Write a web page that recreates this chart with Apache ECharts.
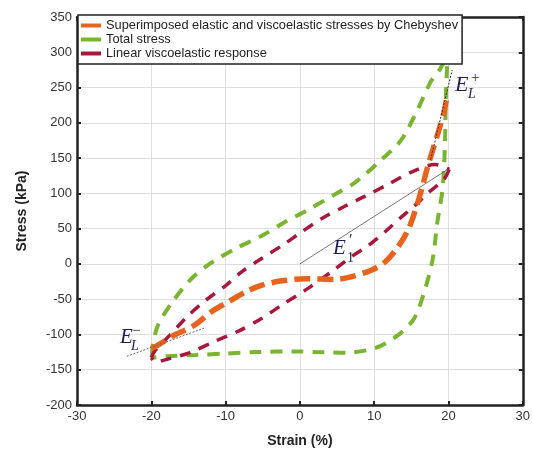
<!DOCTYPE html>
<html><head><meta charset="utf-8">
<script src="https://cdn.jsdelivr.net/npm/echarts@6/dist/echarts.min.js"></script>
<style>html,body{margin:0;padding:0;background:#fff}#c{width:533px;height:453px}</style>
</head><body><div id="c"></div>
<script>
// ---- data (strain %, stress kPa) ----
const xTickValues = [-30, -20, -10, 0, 10, 20, 30];
const yTickValues = [-200, -150, -100, -50, 0, 50, 100, 150, 200, 250, 300, 350];

const totalUpStrain = [-19.9, -19.8, -19.1, -17.1, -14.5, -12.0, -8.6, -5.1, -1.9, 0.8, 4.8, 7.5, 11.0, 13.6, 15.9, 17.6, 18.8, 19.6, 20.0];
const totalUpStress = [-130, -115, -87, -53, -20, 1, 22, 40, 60, 75, 99, 116, 148, 175, 220, 258, 275, 292, 310];
const totalDownStrain = [20.0, 19.7, 19.6, 19.5, 19.2, 18.5, 17.9, 16.9, 15.4, 13.2, 10.2, 6.1, 2.1, -0.6, -5.9, -9.9, -13.9, -17.9, -19.9];
const totalDownStress = [310, 256, 208, 162, 106, 59, 8, -34, -77, -101, -119, -126, -125, -124, -125, -127, -129, -131, -133];

const linUpStrain = [-20.0, -19.5, -17.5, -15.1, -12.6, -9.9, -7.8, -5.1, -2.4, 0.2, 2.9, 6.1, 8.8, 11.9, 15.0, 18.2, 20.1];
const linUpStress = [-133, -123, -101, -74, -51, -30, -11, 8, 26, 45, 64, 82, 96, 113, 130, 141, 134];
const linDownStrain = [20.1, 19.4, 17.4, 15.4, 13.4, 11.4, 9.2, 6.9, 4.9, 1.2, -2.4, -5.1, -8.2, -11.3, -14.9, -18.5, -19.3, -20.0];
const linDownStress = [134, 120, 102, 82, 64, 45, 26, 10, -6, -34, -58, -77, -95, -109, -126, -137, -140, -133];

const chebStrain = [-20.0, -19.1, -17.1, -14.2, -11.8, -9.5, -7.2, -5.1, -2.4, 0.8, 4.8, 7.0, 9.6, 11.5, 13.2, 14.6, 15.6, 16.5, 17.2, 17.9, 18.6, 19.4, 19.8];
const chebStress = [-120, -115, -102, -87, -67, -53, -39, -30, -24, -21, -22, -18, -9, 3, 24, 49, 78, 110, 138, 162, 186, 215, 238];

const tangentPlusStrain = [17.6, 20.5];
const tangentPlusStress = [148, 275];
const secantStrain = [0, 19.9];
const secantStress = [0, 134];
const tangentMinusStrain = [-23.3, -12.9];
const tangentMinusStress = [-131, -91];

const seriesNames = ['Superimposed elastic and viscoelastic stresses by Chebyshev', 'Total stress', 'Linear viscoelastic response'];

const zip = (xs, ys) => xs.map((x, i) => [x, ys[i]]);

const ORANGE = '#E8641E', GREEN = '#7AB531', CRIMSON = '#A8183C';
const FONT = 'Liberation Sans, Arial, sans-serif';

const chart = echarts.init(document.getElementById('c'), null, {renderer: 'canvas'});

const axisLineStyle = {color: '#222', width: 2.5};
const tickStyle = {show: true, inside: true, length: 4, lineStyle: {color: '#222', width: 2}};

function lineSeries(name, data, color, width, dash, smooth) {
  return {
    type: 'line', name: name, data: data, xAxisIndex: 0, yAxisIndex: 0,
    showSymbol: false, symbol: 'none', smooth: smooth, color: color,
    lineStyle: {color: color, width: width, type: dash, cap: 'butt'},
    emphasis: {disabled: true}, silent: true, animation: false
  };
}

const option = {
  animation: false,
  backgroundColor: '#fff',
  grid: {left: 77, right: 7, top: 17, bottom: 45, containLabel: false},
  legend: {
    data: seriesNames,
    orient: 'vertical', left: 78, top: 15,
    backgroundColor: '#fff', borderColor: '#222', borderWidth: 1.5,
    padding: [4, 4, 4, 3], itemGap: 1,
    itemWidth: 20, itemHeight: 4, icon: 'rect',
    textStyle: {fontFamily: FONT, fontSize: 12.8, color: '#222', lineHeight: 13, padding: [0, 0, 0, 0]},
    selectedMode: false
  },
  xAxis: [{
    type: 'value', min: -30, max: 30, interval: 10, position: 'bottom',
    axisLine: {show: true, onZero: false, lineStyle: axisLineStyle},
    axisTick: tickStyle,
    axisLabel: {color: '#333', fontSize: 13, fontFamily: FONT, margin: 5},
    splitLine: {show: true, lineStyle: {color: '#dedede', width: 1}},
    name: 'Strain (%)', nameLocation: 'middle', nameGap: 29,
    nameTextStyle: {color: '#222', fontSize: 14, fontWeight: 'bold', fontFamily: FONT}
  }, {
    type: 'value', min: -30, max: 30, interval: 10, position: 'top',
    axisLine: {show: true, onZero: false, lineStyle: axisLineStyle},
    axisTick: tickStyle, axisLabel: {show: false}, splitLine: {show: false}
  }],
  yAxis: [{
    type: 'value', min: -200, max: 350, interval: 50, position: 'left',
    axisLine: {show: true, onZero: false, lineStyle: axisLineStyle},
    axisTick: tickStyle,
    axisLabel: {color: '#333', fontSize: 13, fontFamily: FONT, margin: 5},
    splitLine: {show: true, lineStyle: {color: '#dedede', width: 1}},
    name: 'Stress (kPa)', nameLocation: 'middle', nameGap: 48,
    nameTextStyle: {color: '#222', fontSize: 14, fontWeight: 'bold', fontFamily: FONT}
  }, {
    type: 'value', min: -200, max: 350, interval: 50, position: 'right',
    axisLine: {show: true, onZero: false, lineStyle: axisLineStyle},
    axisTick: tickStyle, axisLabel: {show: false}, splitLine: {show: false}
  }],
  series: [
    lineSeries(seriesNames[1], zip(totalUpStrain, totalUpStress), GREEN, 4, [12, 9], 0.3),
    lineSeries(seriesNames[1], zip(totalDownStrain, totalDownStress), GREEN, 4, [12, 9], 0.3),
    lineSeries(seriesNames[2], zip(linUpStrain, linUpStress), CRIMSON, 3.5, [11, 9], 0.3),
    lineSeries(seriesNames[2], zip(linDownStrain, linDownStress), CRIMSON, 3.5, [11, 9], 0.3),
    lineSeries(seriesNames[0], zip(chebStrain, chebStress), ORANGE, 5.5, [16, 7], 0.3),
    lineSeries('tanPlus', zip(tangentPlusStrain, tangentPlusStress), '#333', 1, [2, 1.5], false),
    lineSeries('secant', zip(secantStrain, secantStress), '#555', 0.8, 'solid', false),
    lineSeries('tanMinus', zip(tangentMinusStrain, tangentMinusStress), '#666', 1, [2, 1.5], false)
  ]
};
chart.setOption(option);

// annotations
const MATH = '"Liberation Serif", "DejaVu Serif", serif';
const NAVY = '#1c1f5a';
function t(text, x, y, size, italic) {
  return {type: 'text', x: x, y: y, z: 100, silent: true,
    style: {text: text, font: (italic ? 'italic ' : '') + size + 'px ' + MATH, fill: NAVY, verticalAlign: 'top', align: 'left'}};
}
chart.setOption({
  graphic: [
    t('E', 455, 74, 22, true), t('L', 468, 87, 14, true), t('+', 471, 71, 15, false),
    t('E', 333, 238, 21, true), t('1', 347, 251, 14, false), t('\u2032', 349, 233, 16, false),
    t('E', 120, 327, 21, true), t('\u2212', 132, 324, 15, false), t('L', 131, 339, 14, true)
  ]
});
</script>
</body></html>
